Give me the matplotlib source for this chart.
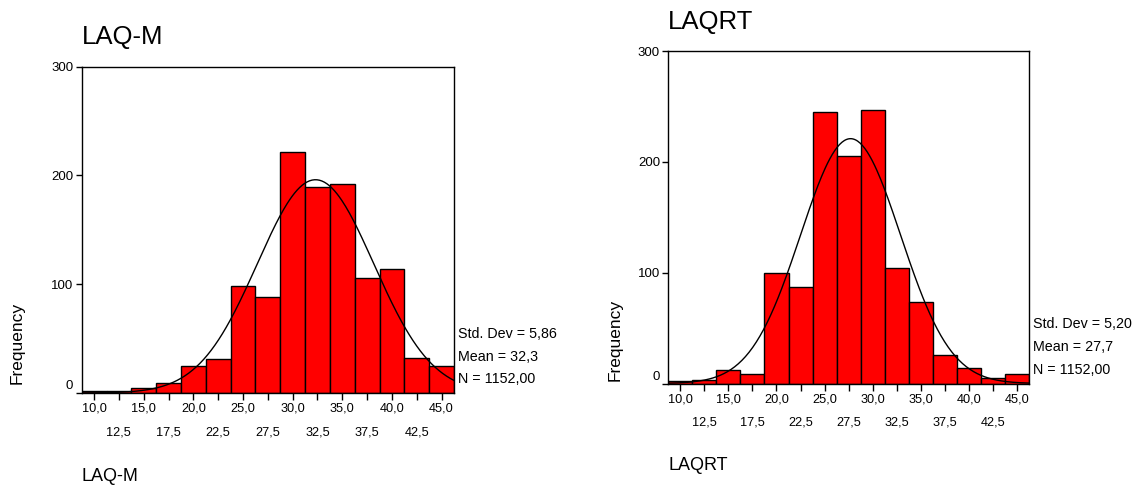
import numpy as np
import matplotlib
matplotlib.use("Agg")
import matplotlib.pyplot as plt
import matplotlib.transforms as mtransforms

plt.rcParams['font.family'] = ['Liberation Sans', 'DejaVu Sans']

# bin centres shared by both histograms
bin_centers = [10.0, 12.5, 15.0, 17.5, 20.0, 22.5, 25.0, 27.5, 30.0,
               32.5, 35.0, 37.5, 40.0, 42.5, 45.0]
bin_width = 2.5

laqm_counts = [2, 2, 5, 9, 25, 31, 98, 88, 222, 189, 192, 106, 114, 32, 25]
laqm_stats = {"sd": 5.86, "mean": 32.3, "n": 1152}

laqrt_counts = [2, 3, 12, 9, 100, 87, 245, 205, 247, 104, 74, 26, 14, 5, 9]
laqrt_stats = {"sd": 5.20, "mean": 27.7, "n": 1152}

major_ticks = [10.0, 15.0, 20.0, 25.0, 30.0, 35.0, 40.0, 45.0]
minor_ticks = [12.5, 17.5, 22.5, 27.5, 32.5, 37.5, 42.5]


def comma(v, d):
    return f"{v:.{d}f}".replace(".", ",")


def draw_hist(fig, rect, counts, stats, title, xlabel, title_y, xlabel_y, freq_xy):
    ax = fig.add_axes(rect)
    ax.bar(bin_centers, counts, width=bin_width, color="#ff0000",
           edgecolor="black", linewidth=1.0, zorder=2)

    # normal curve scaled to counts
    x = np.linspace(bin_centers[0] - bin_width / 2, bin_centers[-1] + bin_width / 2, 300)
    scale = stats["n"] * bin_width / (stats["sd"] * np.sqrt(2 * np.pi))
    y = scale * np.exp(-0.5 * ((x - stats["mean"]) / stats["sd"]) ** 2)
    ax.plot(x, y, color="black", linewidth=1.0, zorder=3)

    ax.set_xlim(bin_centers[0] - bin_width / 2, bin_centers[-1] + bin_width / 2)
    ax.set_ylim(0, 300)
    ax.set_yticks([0, 100, 200, 300])
    ax.set_yticklabels(["0", "100", "200", "300"])
    ax.tick_params(axis="y", labelsize=9.5, length=4, width=1, pad=2)
    # lift the "0" label a little, like the original
    lab0 = ax.get_yticklabels()[0]
    lab0.set_transform(lab0.get_transform() + mtransforms.ScaledTranslation(0, 6 / 72, fig.dpi_scale_trans))

    ax.set_xticks(major_ticks)
    ax.set_xticklabels([comma(t, 1) for t in major_ticks])
    ax.set_xticks(minor_ticks, minor=True)
    ax.set_xticklabels([comma(t, 1) for t in minor_ticks], minor=True)
    ax.tick_params(axis="x", which="major", labelsize=9.2, length=5, width=1, pad=2)
    ax.tick_params(axis="x", which="minor", labelsize=9.2, length=5, width=1, pad=19)

    for s in ax.spines.values():
        s.set_linewidth(1.0)
        s.set_color("black")

    # stats block to the right of the axes
    lines = [f"Std. Dev = {comma(stats['sd'], 2)}",
             f"Mean = {comma(stats['mean'], 1)}",
             f"N = {comma(stats['n'], 2)}"]
    for i, t in enumerate(lines):
        ax.text(1.012, 0.18 - i * 0.069, t, transform=ax.transAxes,
                fontsize=10.3, va="center", ha="left")

    bb = ax.get_position()
    fig.text(bb.x0, title_y, title, fontsize=18.5, va="center", ha="left")
    fig.text(bb.x0, xlabel_y, xlabel, fontsize=13, va="center", ha="left")
    fig.text(freq_xy[0], freq_xy[1], "Frequency", fontsize=12.5, rotation=90,
             va="center", ha="center")
    return ax


fig = plt.figure(figsize=(11.41, 4.86), dpi=100)

draw_hist(fig, [0.0716, 0.1914, 0.3263, 0.6714], laqm_counts, laqm_stats,
          "LAQ-M", "LAQ-M", 1 - 37 / 486, 1 - 476 / 486,
          (17 / 1141, 1 - 343 / 486))
draw_hist(fig, [0.5857, 0.2109, 0.3161, 0.684], laqrt_counts, laqrt_stats,
          "LAQRT", "LAQRT", 1 - 22 / 486, 1 - 465 / 486,
          (615 / 1141, 1 - 340 / 486))

fig.savefig("out.png", dpi=100)
